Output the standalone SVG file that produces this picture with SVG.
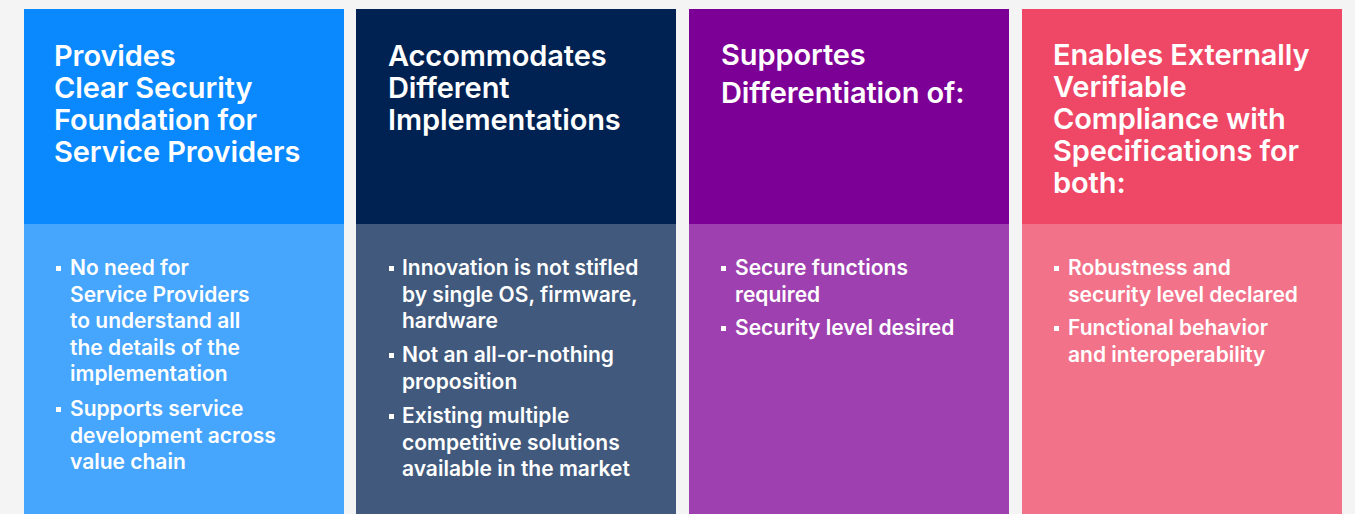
<svg xmlns="http://www.w3.org/2000/svg" width="1355" height="514" viewBox="0 0 1355 514">
<style>
.h{font-family:Inter,"Liberation Sans",sans-serif;font-weight:600;font-size:29px;fill:#fff;letter-spacing:-0.1px}
.b{font-family:Inter,"Liberation Sans",sans-serif;font-weight:600;font-size:21px;fill:#fff}
.d{fill:#fff}
</style>
<rect width="1355" height="514" fill="#f4f4f4"/>
<g id="col1">
<rect x="24" y="9" width="320" height="215" fill="#0a88fd"/>
<rect x="24" y="224" width="320" height="290" fill="#46a5fd"/>
<text class="h"><tspan x="54" y="66">Provides</tspan><tspan x="54" y="98">Clear Security</tspan><tspan x="54" y="130">Foundation for</tspan><tspan x="54" y="162">Service Providers</tspan></text>
<rect class="d" x="56" y="266" width="5" height="5"/>
<rect class="d" x="56" y="407" width="5" height="5"/>
<text class="b"><tspan x="70" y="275">No need for</tspan><tspan x="70" y="301.5">Service Providers</tspan><tspan x="70" y="328">to understand all</tspan><tspan x="70" y="354.5">the details of the</tspan><tspan x="70" y="381">implementation</tspan><tspan x="70" y="416">Supports service</tspan><tspan x="70" y="442.5">development across</tspan><tspan x="70" y="469">value chain</tspan></text>
</g>
<g id="col2">
<rect x="356" y="9" width="320" height="215" fill="#002252"/>
<rect x="356" y="224" width="320" height="290" fill="#40597c"/>
<text class="h"><tspan x="388" y="66">Accommodates</tspan><tspan x="388" y="98">Different</tspan><tspan x="388" y="130">Implementations</tspan></text>
<rect class="d" x="389" y="266" width="5" height="5"/>
<rect class="d" x="389" y="353" width="5" height="5"/>
<rect class="d" x="389" y="414" width="5" height="5"/>
<text class="b"><tspan x="402" y="275">Innovation is not stifled</tspan><tspan x="402" y="301.5">by single OS, firmware,</tspan><tspan x="402" y="328">hardware</tspan><tspan x="402" y="362">Not an all-or-nothing</tspan><tspan x="402" y="388.5">proposition</tspan><tspan x="402" y="423">Existing multiple</tspan><tspan x="402" y="449.5">competitive solutions</tspan><tspan x="402" y="476">available in the market</tspan></text>
</g>
<g id="col3">
<rect x="689" y="9" width="320" height="215" fill="#7d0096"/>
<rect x="689" y="224" width="320" height="290" fill="#9e40b0"/>
<text class="h"><tspan x="721" y="65">Supportes</tspan><tspan x="721" y="103">Differentiation of:</tspan></text>
<rect class="d" x="721" y="266" width="5" height="5"/>
<rect class="d" x="721" y="326" width="5" height="5"/>
<text class="b"><tspan x="735" y="275">Secure functions</tspan><tspan x="735" y="301.5">required</tspan><tspan x="735" y="335">Security level desired</tspan></text>
</g>
<g id="col4">
<rect x="1022" y="9" width="320" height="215" fill="#ef4766"/>
<rect x="1022" y="224" width="320" height="290" fill="#f27289"/>
<text class="h"><tspan x="1053" y="65">Enables Externally</tspan><tspan x="1053" y="97">Verifiable</tspan><tspan x="1053" y="129">Compliance with</tspan><tspan x="1053" y="161">Specifications for</tspan><tspan x="1053" y="193">both:</tspan></text>
<rect class="d" x="1054" y="266" width="5" height="5"/>
<rect class="d" x="1054" y="326" width="5" height="5"/>
<text class="b"><tspan x="1068" y="275">Robustness and</tspan><tspan x="1068" y="301.5">security level declared</tspan><tspan x="1068" y="335">Functional behavior</tspan><tspan x="1068" y="361.5">and interoperability</tspan></text>
</g>
<g id="connectors"/>
</svg>
